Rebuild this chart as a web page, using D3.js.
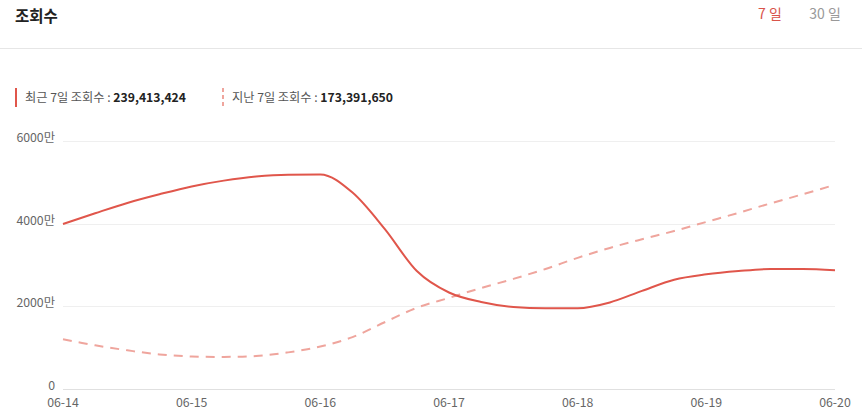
<!DOCTYPE html>
<html><head><meta charset="utf-8">
<script src="https://cdn.jsdelivr.net/npm/d3@7"></script>
<style>
html,body{margin:0;padding:0;background:#fff;}
svg{display:block;font-family:"Noto Sans CJK KR","Noto Sans",sans-serif;}
</style></head>
<body><svg id="c" width="862" height="412"></svg>
<script>
const dayLabels = ["06-14","06-15","06-16","06-17","06-18","06-19","06-20"];
// quarter-day sample points (day index)
const times = d3.range(0, 24.5, 1).map(k => k / 4);
const recentValues = [39.9,42.5,45.0,47.1,49.0,50.4,51.4,51.85,51.9,47.5,38.7,28.5,23.3,21.0,19.8,19.5,19.5,20.9,23.7,26.4,27.7,28.5,29.0,29.0,28.7];
const previousValues = [12.0,10.5,9.3,8.3,7.8,7.7,7.9,8.8,10.2,12.5,16.1,19.6,22.0,24.4,26.6,29.0,31.7,34.1,36.2,38.2,40.4,42.6,44.9,47.1,49.4];
const yTicks = [0,20,40,60];
const yTickLabels = ["0","2000만","4000만","6000만"];
const seriesNames = ["최근 7일 조회수 : ","지난 7일 조회수 : "];
const seriesTotals = ["239,413,424","173,391,650"];
const periodTabs = ["7 일","30 일"];
const title = "조회수";

const svg = d3.select("#c");
const W = 862, H = 412;
const m = {left:63, right:835, top:141, bottom:388.7};
const x = d3.scaleLinear().domain([0,6]).range([m.left, m.right]);
const y = d3.scaleLinear().domain([0,60]).range([m.bottom, m.top]);

// header
svg.append("text").attr("x",15).attr("y",22).attr("font-size",15.5).attr("font-weight",700).attr("fill","#222").text(title);
svg.append("line").attr("x1",0).attr("x2",W).attr("y1",48.5).attr("y2",48.5).attr("stroke","#e6e6e6");
svg.append("text").attr("x",770).attr("y",19).attr("text-anchor","middle").attr("font-size",14).attr("fill","#d9534a").text(periodTabs[0]);
svg.append("text").attr("x",825).attr("y",19).attr("text-anchor","middle").attr("font-size",14).attr("fill","#999").text(periodTabs[1]);

// legend
const colRecent = "#e0564b", colPrev = "#efa59d";
const leg = [{x:15, c:colRecent, dash:null},{x:222, c:colPrev, dash:"4,3"}];
leg.forEach((l,i)=>{
  svg.append("line").attr("x1",l.x+1).attr("x2",l.x+1).attr("y1",88).attr("y2",107)
    .attr("stroke",l.c).attr("stroke-width",2).attr("stroke-dasharray",l.dash);
  const t = svg.append("text").attr("x",l.x+10).attr("y",102).attr("font-size",12.2).attr("fill","#555");
  t.append("tspan").text(seriesNames[i]);
  t.append("tspan").attr("font-weight",700).attr("fill","#222").text(seriesTotals[i]);
});

// grid
const g = svg.append("g");
g.selectAll("line.grid").data(yTicks).enter().append("line")
  .attr("x1",m.left).attr("x2",m.right)
  .attr("y1",d=>Math.round(y(d))+0.5).attr("y2",d=>Math.round(y(d))+0.5)
  .attr("stroke",d=>d===0?"#e0e0e0":"#efefef");
g.selectAll("text.yl").data(yTicks).enter().append("text")
  .attr("x",55).attr("y",d=>y(d)+1).attr("text-anchor","end").attr("font-size",12.3).attr("fill","#666")
  .text((d,i)=>yTickLabels[i]);
g.selectAll("text.xl").data(dayLabels).enter().append("text")
  .attr("x",(d,i)=>x(i)).attr("y",407).attr("text-anchor","middle").attr("font-size",12.3).attr("fill","#666")
  .text(d=>d);

const lineSmooth = d3.line().x(d=>x(d[0])).y(d=>y(d[1])).curve(d3.curveCatmullRom.alpha(0.5));
const lineMono = d3.line().x(d=>x(d[0])).y(d=>y(d[1])).curve(d3.curveMonotoneX);
svg.append("path").attr("d",lineSmooth(times.map((t,i)=>[t,previousValues[i]])))
  .attr("fill","none").attr("stroke",colPrev).attr("stroke-width",2).attr("stroke-dasharray","9,7");
svg.append("path").attr("d",lineMono(times.map((t,i)=>[t,recentValues[i]])))
  .attr("fill","none").attr("stroke",colRecent).attr("stroke-width",2);
</script></body></html>
